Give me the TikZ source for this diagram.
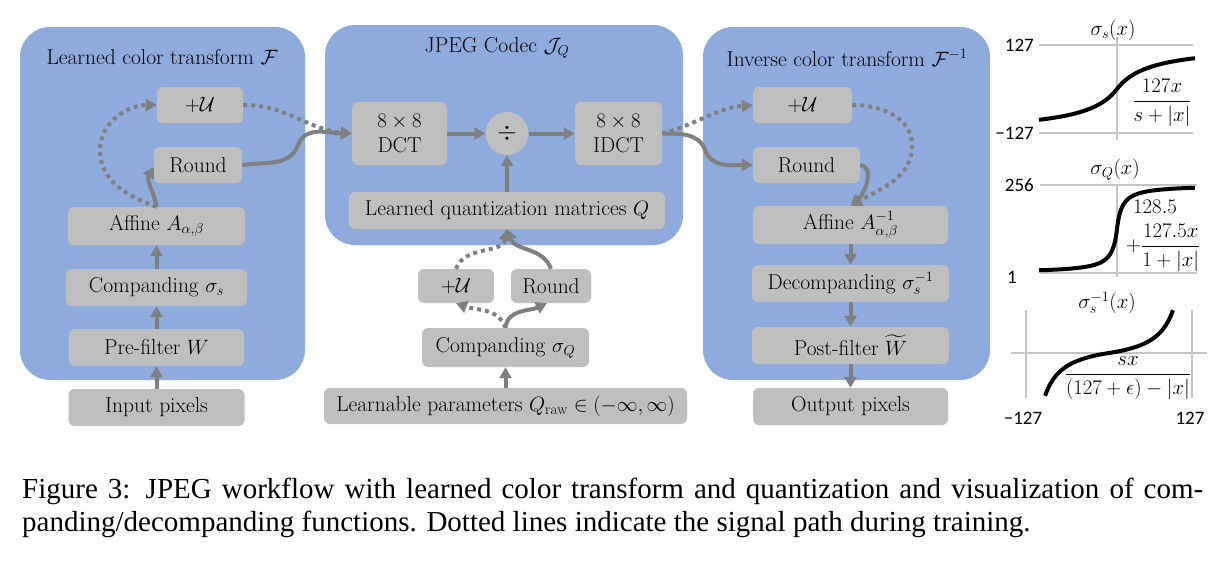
\documentclass[tikz,border=0pt]{standalone}
\usepackage{fontspec}
\usepackage{amsmath}
\usetikzlibrary{arrows.meta}
\newfontfamily\capfont{Liberation Serif}
\newfontfamily\chartfont{Carlito}
\definecolor{panelblue}{HTML}{8FAADC}
\definecolor{boxgray}{HTML}{BFBFBF}
\definecolor{arrgray}{HTML}{808080}
\definecolor{gridgray}{HTML}{C4C4C4}
\tikzset{
  panel/.style={fill=panelblue, rounded corners=30pt, inner sep=0pt},
  blk/.style={fill=boxgray, rounded corners=6pt, inner sep=0pt, align=center},
  ttl/.style={inner sep=0pt},
  arr/.style={draw=arrgray, line width=4pt, -{Triangle[length=11pt,width=12pt]}},
  dots/.style={arr, dash pattern=on 4pt off 4pt},
  grid/.style={draw=gridgray, line width=1.2pt},
  curve/.style={draw=black, line width=4pt},
  clab/.style={inner sep=0pt, font=\chartfont\fontsize{19}{20}\selectfont},
  flab/.style={inner sep=0pt, font=\fontsize{20}{24}\selectfont},
}
\begin{document}
\begin{tikzpicture}[x=1pt,y=-1pt,font=\fontsize{21.5}{25}\selectfont]
\fill[white] (0,0) rectangle (1223,568);
\useasboundingbox (0,0) rectangle (1223,568);

% panels
\node[panel, minimum width=285pt, minimum height=353pt] (P1) at (162.5,203.5) {};
\node[panel, minimum width=358pt, minimum height=220pt] (P2) at (504,135) {};
\node[panel, minimum width=287pt, minimum height=353pt] (P3) at (846.5,203.5) {};
\node[ttl] (t1) at (162,57) {Learned color transform $\mathcal{F}$};
\node[ttl] (t2) at (497,48) {JPEG Codec $\mathcal{J}_Q$};
\node[ttl] (t3) at (847,58) {Inverse color transform $\mathcal{F}^{-1}$};

% left column
\node[blk, minimum width=86pt, minimum height=36pt] (uL) at (200,105) {$+\mathcal{U}$};
\node[blk, minimum width=88pt, minimum height=36pt] (rL) at (198,165) {Round};
\node[blk, minimum width=177pt, minimum height=38pt] (aL) at (156.5,226) {Affine $A_{\alpha,\beta}$};
\node[blk, minimum width=181pt, minimum height=37pt] (cL) at (156.5,287.5) {Companding $\sigma_s$};
\node[blk, minimum width=175pt, minimum height=37pt] (pL) at (156.5,347.5) {Pre-filter $W$};
\node[blk, minimum width=176pt, minimum height=37pt] (iL) at (156.5,407.5) {Input pixels};

% middle
\node[blk, minimum width=95pt, minimum height=63pt] (dct) at (399.5,133.5) {$8\times 8$\\DCT};
\node[fill=boxgray, circle, minimum size=43pt, inner sep=0pt] (div) at (507,133.5) {\fontsize{38}{38}\selectfont$\div$};
\node[blk, minimum width=87pt, minimum height=63pt] (idct) at (618.5,133.5) {$8\times 8$\\IDCT};
\node[blk, minimum width=316pt, minimum height=37pt] (qm) at (507,210.5) {Learned quantization matrices $Q$};
\node[blk, minimum width=76pt, minimum height=34pt] (uM) at (456,286) {$+\mathcal{U}$};
\node[blk, minimum width=80pt, minimum height=34pt] (rM) at (551,286) {Round};
\node[blk, minimum width=167pt, minimum height=39pt] (cM) at (505.5,347.5) {Companding $\sigma_Q$};
\node[blk, minimum width=363pt, minimum height=36pt] (lp) at (505.5,406) {Learnable parameters $Q_{\mathrm{raw}}\in(-\infty,\infty)$};

% right column
\node[blk, minimum width=99pt, minimum height=36pt] (uR) at (802.5,105) {$+\mathcal{U}$};
\node[blk, minimum width=107pt, minimum height=36pt] (rR) at (806.5,165) {Round};
\node[blk, minimum width=195pt, minimum height=38pt] (aR) at (850.5,225) {Affine $A^{-1}_{\alpha,\beta}$};
\node[blk, minimum width=197pt, minimum height=37pt] (dR) at (850.5,283.5) {Decompanding $\sigma_s^{-1}$};
\node[blk, minimum width=197pt, minimum height=37pt] (poR) at (850.5,345.5) {Post-filter $\widetilde{W}$};
\node[blk, minimum width=195pt, minimum height=37pt] (oR) at (850.5,406.5) {Output pixels};

% left connectors
\draw[arr] (iL.north) -- (pL.south);
\draw[arr] (pL.north) -- (cL.south);
\draw[arr] (cL.north) -- (aL.south);
\draw[dots] (aL.north) to[out=160,in=270] (100,150) to[out=90,in=180] (uL.west);
\draw[arr] (aL.north) to[out=100,in=240] ([yshift=-2pt]rL.west);
\draw[dots] (uL.east) to[out=0,in=175] (dct.west);
\draw[arr] (rL.east) to[out=8,in=250] (298,145) to[out=70,in=180] (dct.west);

% middle connectors
\draw[arr] (dct.east) -- (div.west);
\draw[arr] (div.east) -- (idct.west);
\draw[arr] (qm.north) -- (div.south);
\draw[arr] (lp.north) -- (cM.south);
\draw[dots] (cM.north) to[out=110,in=-20] (uM.south);
\draw[arr] (cM.north) to[out=85,in=205] ([xshift=-4pt]rM.south);
\draw[dots] (uM.north) to[out=70,in=-100] (qm.south);
\draw[arr] (rM.north) to[out=110,in=-70] (qm.south);

% right connectors
\draw[dots] (idct.east) to[out=15,in=185] (uR.west);
\draw[arr] (idct.east) to[out=0,in=110] (705,150) to[out=-70,in=180] (rR.west);
\draw[dots] (uR.east) to[out=0,in=90] (912,145) to[out=-90,in=30] (aR.north);
\draw[arr] (rR.east) to[out=-10,in=40] (aR.north);
\draw[arr] (aR.south) -- (dR.north);
\draw[arr] (dR.south) -- (poR.north);
\draw[arr] (poR.south) -- (oR.north);

% chart 1
\draw[grid] (1039,45) -- (1193,45);
\draw[grid] (1039,133) -- (1193,133);
\draw[grid] (1117,37) -- (1117,140);
\draw[curve] plot[domain=-1:1, samples=90, smooth] ({1117+78*\x},{89-44*\x/(0.4286+abs(\x))});
\node[flab] (l1) at (1113,30) {$\sigma_s(x)$};
\node[clab, anchor=east] (n127a) at (1034,45) {127};
\node[clab, anchor=east] (nm127a) at (1034,133) {−127};
\node[flab] (f1) at (1162,103) {$\dfrac{127x}{s+|x|}$};

% chart 2
\draw[grid] (1040,185) -- (1197,185);
\draw[grid] (1040,273) -- (1197,273);
\draw[grid] (1117,185) -- (1117,277);
\draw[curve] plot[domain=-1:1, samples=150, smooth] ({1117+78*\x},{229-44*\x/(0.066+abs(\x))});
\node[flab] (l2) at (1115,170) {$\sigma_Q(x)$};
\node[clab, anchor=east] (n256) at (1034,185) {256};
\node[clab] (n1) at (1012,277) {1};
\node[flab, anchor=west] (f2a) at (1133,207) {$128.5$};
\node[flab, anchor=west] (f2b) at (1126,248) {$+\dfrac{127.5x}{1+|x|}$};

% chart 3
\draw[grid] (1026,310) -- (1026,398);
\draw[grid] (1192,310) -- (1192,398);
\draw[grid] (1011,353) -- (1207,353);
\draw[curve] plot[domain=-0.77:0.77, samples=90, smooth] ({1109+83*\x},{353-12.8*\x/(1.0-abs(\x))});
\node[flab] (l3) at (1107,303) {$\sigma_s^{-1}(x)$};
\node[flab] (f3) at (1128,378) {$\dfrac{sx}{(127+\epsilon)-|x|}$};
\node[clab] (nm127c) at (1023,418) {−127};
\node[clab] (n127c) at (1190,418) {127};

% caption
\node[anchor=base west, inner sep=0pt, font=\capfont\fontsize{29}{33}\selectfont] (cap1) at (22,498)
  {\hbox to 1181pt{Figure 3: JPEG workflow with learned color transform and quantization and visualization of com-}};
\node[anchor=base west, inner sep=0pt, font=\capfont\fontsize{29}{33}\selectfont] (cap2) at (22,531)
  {panding/decompanding functions. Dotted lines indicate the signal path during training.};
\end{tikzpicture}
\end{document}
